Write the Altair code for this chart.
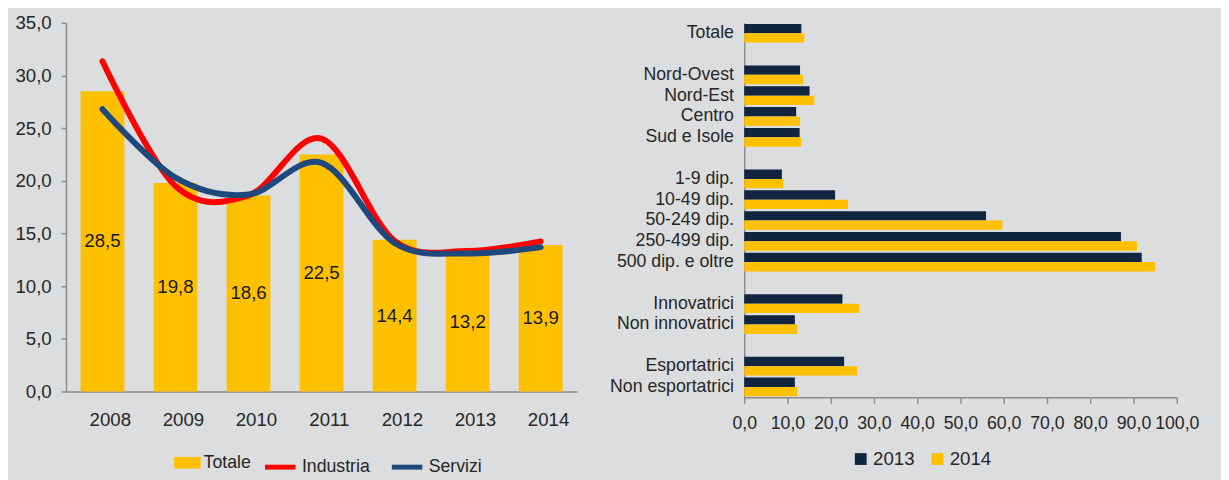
import altair as alt
import pandas as pd

# ---- Left panel data ----
anni = ["2008", "2009", "2010", "2011", "2012", "2013", "2014"]
totale = [28.5, 19.8, 18.6, 22.5, 14.4, 13.2, 13.9]
industria = [31.35, 19.5, 18.6, 24.0, 14.3, 13.35, 14.25]
servizi = [26.8, 20.3, 18.7, 21.7, 14.1, 13.1, 13.7]

# ---- Right panel data ----
categorie = ["Totale", " ", "Nord-Ovest", "Nord-Est", "Centro", "Sud e Isole", "  ",
             "1-9 dip.", "10-49 dip.", "50-249 dip.", "250-499 dip.", "500 dip. e oltre", "   ",
             "Innovatrici", "Non innovatrici", "    ", "Esportatrici", "Non esportatrici"]
righe = ["Totale", "Nord-Ovest", "Nord-Est", "Centro", "Sud e Isole",
         "1-9 dip.", "10-49 dip.", "50-249 dip.", "250-499 dip.", "500 dip. e oltre",
         "Innovatrici", "Non innovatrici", "Esportatrici", "Non esportatrici"]
v2013 = [13.2, 12.9, 15.1, 12.0, 12.8, 8.7, 21.0, 55.9, 87.1, 91.9, 22.7, 11.7, 23.1, 11.7]
v2014 = [13.9, 13.6, 16.2, 12.9, 13.2, 9.0, 24.0, 59.7, 90.8, 95.0, 26.6, 12.2, 26.1, 12.2]

FONT = "Liberation Sans"
AXIS_GRAY = "#8C8C8C"
TXT = "#262626"
YELLOW = "#FFC000"
RED = "#FF0000"
BLUE = "#1F497D"
NAVY = "#12253F"
fmt = "replace(format(datum.value, '.1f'), '.', ',')"
LEG_Y = 434

df_bar = pd.DataFrame({"anno": anni, "valore": totale, "serie": ["Totale"] * len(anni)})
df_lines = pd.concat([
    pd.DataFrame({"anno": anni, "valore": industria, "serie": ["Industria"] * len(anni)}),
    pd.DataFrame({"anno": anni, "valore": servizi, "serie": ["Servizi"] * len(anni)}),
], ignore_index=True)

x_left = alt.X("anno:N", sort=anni,
               scale=alt.Scale(paddingInner=0.4, paddingOuter=0.2),
               axis=alt.Axis(title=None, labelAngle=0, ticks=False, labelPadding=20,
                             labelOffset=8, labelFontSize=19, labelColor=TXT,
                             domainColor=AXIS_GRAY, domainWidth=1.5))
y_left = alt.Y("valore:Q", scale=alt.Scale(domain=[0, 35], nice=False),
               axis=alt.Axis(title=None, values=[0, 5, 10, 15, 20, 25, 30, 35],
                             labelExpr=fmt, grid=False, tickSize=5, labelPadding=10,
                             tickColor=AXIS_GRAY, tickWidth=1.5, domainColor=AXIS_GRAY,
                             domainWidth=1.5, labelFontSize=19, labelColor=TXT,
                             labelFlush=False, labelOverlap=False,
                             minExtent=54, maxExtent=54))

bars = alt.Chart(df_bar).mark_bar().encode(
    x=x_left, y=y_left,
    fill=alt.Fill("serie:N", scale=alt.Scale(domain=["Totale"], range=[YELLOW]),
                  legend=alt.Legend(title=None, orient="none", legendX=110, legendY=LEG_Y,
                                    direction="horizontal",
                                    symbolType="M-1,-0.44H1V0.44H-1Z", symbolSize=729,
                                    symbolStrokeWidth=0, symbolOpacity=1,
                                    labelFontSize=18, labelColor=TXT, labelOffset=3)),
)

labels = alt.Chart(df_bar).transform_calculate(
    mid="datum.valore / 2",
    lab="replace(format(datum.valore, '.1f'), '.', ',')",
).mark_text(fontSize=19, color="#1A1A1A", baseline="middle", align="center").encode(
    x=alt.X("anno:N", sort=anni), y=alt.Y("mid:Q"), text="lab:N"
)

lines = alt.Chart(df_lines).mark_line(interpolate="cardinal", strokeWidth=6,
                                       strokeCap="round", strokeJoin="round").encode(
    x=alt.X("anno:N", sort=anni), y=alt.Y("valore:Q"),
    stroke=alt.Stroke("serie:N", scale=alt.Scale(domain=["Industria", "Servizi"], range=[RED, BLUE]),
                      legend=alt.Legend(title=None, orient="none", legendX=200, legendY=LEG_Y,
                                        direction="horizontal", symbolType="stroke",
                                        symbolSize=961, symbolStrokeWidth=5,
                                        labelFontSize=18, labelColor=TXT, labelOffset=4,
                                        columnPadding=11)),
)

left = alt.layer(bars, labels, lines).properties(width=520, height=375)

# ---- Right chart ----
rows = []
for c, a, b in zip(righe, v2013, v2014):
    rows.append({"cat": c, "anno": "2013", "valore": a})
    rows.append({"cat": c, "anno": "2014", "valore": b})
df_right = pd.DataFrame(rows)

right = alt.Chart(df_right).mark_bar().encode(
    x=alt.X("valore:Q", scale=alt.Scale(domain=[0, 100], nice=False),
            axis=alt.Axis(title=None, values=list(range(0, 101, 10)), labelExpr=fmt, grid=False,
                          tickSize=6, tickColor=AXIS_GRAY, tickWidth=1.5, labelPadding=12,
                          domainColor=AXIS_GRAY, domainWidth=1.5, labelFontSize=18,
                          labelColor=TXT, labelFlush=False, labelOverlap=False)),
    y=alt.Y("cat:N", sort=categorie,
            scale=alt.Scale(domain=categorie, paddingInner=0.1, paddingOuter=0.05),
            axis=alt.Axis(title=None, ticks=False, labelPadding=11, domainColor=AXIS_GRAY,
                          domainWidth=1.5, labelFontSize=18, labelColor=TXT,
                          minExtent=141, maxExtent=141)),
    yOffset=alt.YOffset("anno:N", sort=["2013", "2014"],
                        scale=alt.Scale(paddingInner=0, paddingOuter=0)),
    color=alt.Color("anno:N", scale=alt.Scale(domain=["2013", "2014"], range=[NAVY, YELLOW]),
                    legend=alt.Legend(title=None, orient="none", legendX=109, legendY=LEG_Y,
                                      direction="horizontal", symbolType="square",
                                      symbolSize=144, symbolStrokeWidth=0,
                                      labelFontSize=19, labelColor=TXT, labelOffset=3,
                                      columnPadding=13)),
).properties(width=440, height=381)

chart = alt.hconcat(left, right, spacing=29).resolve_scale(
    color="independent", fill="independent", stroke="independent"
).resolve_legend(
    color="independent", fill="independent", stroke="independent"
).properties(
    background="#DCDDDF",
    padding={"left": 5, "top": 2, "right": 22, "bottom": 0},
).configure(font=FONT).configure_view(stroke=None)

chart.save("out.html", embed_options={"renderer": "svg", "actions": False})
